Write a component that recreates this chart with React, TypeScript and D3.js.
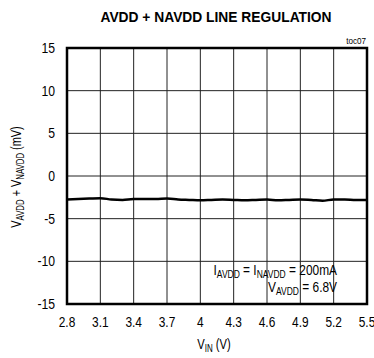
import React from "react";
import * as d3 from "d3";

const xTicks = [2.8, 3.1, 3.4, 3.7, 4.0, 4.3, 4.6, 4.9, 5.2, 5.5];
const xTickLabels = ["2.8", "3.1", "3.4", "3.7", "4", "4.3", "4.6", "4.9", "5.2", "5.5"];
const yTicks = [-15, -10, -5, 0, 5, 10, 15];
const vin = [2.8, 2.9, 3.0, 3.1, 3.2, 3.3, 3.4, 3.5, 3.6, 3.7, 3.8, 3.9, 4.0, 4.1, 4.2, 4.3, 4.4, 4.5, 4.6, 4.7, 4.8, 4.9, 5.0, 5.1, 5.2, 5.3, 5.4, 5.5];
const vsum = [-2.75, -2.7, -2.65, -2.6, -2.75, -2.8, -2.7, -2.7, -2.7, -2.65, -2.75, -2.8, -2.85, -2.8, -2.75, -2.8, -2.85, -2.8, -2.75, -2.85, -2.8, -2.75, -2.8, -2.9, -2.75, -2.75, -2.8, -2.8];

const FONT = "'Liberation Sans Narrow', 'Arial Narrow', 'Liberation Sans', Arial, sans-serif";

function CText(props: { x: number; y: number; anchor?: string; size: number; sx?: number; weight?: string; rotate?: number; children: React.ReactNode }) {
  const { x, y, anchor = "start", size, sx = 0.85, weight, rotate = 0, children } = props;
  return (
    <g transform={`translate(${x},${y}) rotate(${rotate}) scale(${sx},1)`}>
      <text x={0} y={0} textAnchor={anchor} fontSize={size} fontWeight={weight}>{children}</text>
    </g>
  );
}

export default function App() {
  const W = 374, H = 358;
  const L = 67, R = 367, T = 48, B = 304;
  const x = d3.scaleLinear().domain([2.8, 5.5]).range([L, R]);
  const y = d3.scaleLinear().domain([-15, 15]).range([B, T]);
  const line = d3.line<number>().x((_, i) => x(vin[i])).y((d) => y(d)).curve(d3.curveMonotoneX);
  const sub = 10;
  return (
    <svg width={W} height={H} style={{ position: "absolute", left: 0, top: 0 }} fontFamily={FONT}>
      <rect width={W} height={H} fill="#fff" />
      <CText x={216} y={22} anchor="middle" size={15} sx={0.92} weight="bold">AVDD + NAVDD LINE REGULATION</CText>
      <CText x={366} y={44} anchor="end" size={9} sx={0.9}>toc07</CText>
      {xTicks.slice(1, -1).map((t) => (
        <line key={"gx" + t} x1={x(t)} x2={x(t)} y1={T} y2={B} stroke="#222" strokeWidth={1} />
      ))}
      {yTicks.slice(1, -1).map((t) => (
        <line key={"gy" + t} x1={L} x2={R} y1={y(t)} y2={y(t)} stroke="#222" strokeWidth={1} />
      ))}
      <rect x={L} y={T} width={R - L} height={B - T} fill="none" stroke="#000" strokeWidth={2.5} />
      <path d={line(vsum) || ""} fill="none" stroke="#000" strokeWidth={2.5} />
      {yTicks.map((t) => (
        <CText key={"yl" + t} x={55} y={y(t) + 5} anchor="end" size={14} sx={0.87}>{t}</CText>
      ))}
      {xTicks.map((t, i) => (
        <CText key={"xl" + t} x={x(t)} y={327} anchor="middle" size={14} sx={0.85}>{xTickLabels[i]}</CText>
      ))}
      <CText x={214} y={349} anchor="middle" size={14} sx={0.8}>
        V<tspan fontSize={sub} dy={3}>IN</tspan><tspan dy={-3}> (V)</tspan>
      </CText>
      <CText x={21} y={177} anchor="middle" size={14} sx={0.78} rotate={-90}>
        V<tspan fontSize={sub} dy={3}>AVDD</tspan><tspan dy={-3}> + V</tspan><tspan fontSize={sub} dy={3}>NAVDD</tspan><tspan dy={-3}> (mV)</tspan>
      </CText>
      <CText x={337} y={275} anchor="end" size={14} sx={0.85}>
        I<tspan fontSize={sub} dy={3}>AVDD</tspan><tspan dy={-3}> = I</tspan><tspan fontSize={sub} dy={3}>NAVDD</tspan><tspan dy={-3}> = 200mA</tspan>
      </CText>
      <CText x={337} y={292} anchor="end" size={14} sx={0.85}>
        V<tspan fontSize={sub} dy={3}>AVDD</tspan><tspan dy={-3}> = 6.8V</tspan>
      </CText>
    </svg>
  );
}
